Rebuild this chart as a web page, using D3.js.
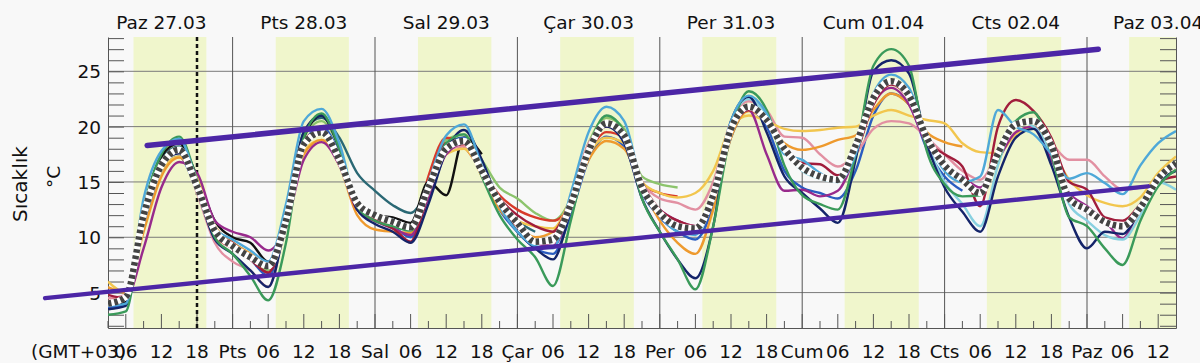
<!DOCTYPE html>
<meta charset="utf-8">
<script src="https://d3js.org/d3.v7.min.js"></script>
<style>
  body { margin: 0; background: #f8f8f8; }
  svg { font-family: "DejaVu Sans", sans-serif; }
</style>
<div id="chart"></div>
<script>
// hours after Mar 27 00:00 (GMT+03), one value every 3 hours from 03:00
var hours = d3.range(3, 184, 3);

var dayLabels = ["Paz 27.03", "Pts 28.03", "Sal 29.03", "Çar 30.03", "Per 31.03", "Cum 01.04", "Cts 02.04", "Paz 03.04"];
var dayShort = ["Paz", "Pts", "Sal", "Çar", "Per", "Cum", "Cts", "Paz"];
var sunrise = [7.30, 7.27, 7.24, 7.21, 7.18, 7.15, 7.12, 7.10];
var sunset = [19.58, 19.60, 19.61, 19.62, 19.63, 19.64, 19.65, 19.66];
var yMajor = [5, 10, 15, 20, 25];
var nowHour = 18;

function fill(start, vals) {
  var a = new Array(hours.length).fill(null);
  vals.forEach(function(v, i) { a[start + i] = v; });
  return a;
}

var mean = [4.0, 4.6, 12.0, 16.5, 17.9, 14.6, 10.6, 9.2, 8.2, 7.4,
  11.5, 18.4, 19.5, 17.0, 13.1, 12.0, 11.4, 10.9, 14.5, 18.0,
  18.7, 16.0, 13.2, 11.3, 9.6, 9.8, 13.0, 17.8, 20.3, 19.2,
  14.5, 12.2, 11.0, 10.8, 13.8, 19.8, 21.8, 20.6, 18.0, 16.3,
  15.5, 15.2, 18.3, 22.6, 24.1, 22.8, 19.0, 16.5, 15.2, 14.0,
  17.6, 20.2, 20.5, 18.3, 13.5, 12.5, 11.4, 11.0, 12.7, 15.3,
  16.7];

var sky = [3.8, 4.0, 13.5, 17.8, 18.9, 15.0, 10.8, 9.8, 8.8, 7.8,
  13.0, 20.5, 21.6, 18.5, 13.0, 12.0, 11.6, 11.0, 15.0, 19.2,
  20.2, 16.5, 12.8, 10.5, 9.2, 9.0, 14.0, 19.5, 21.8, 20.5,
  14.8, 12.0, 10.5, 10.2, 14.0, 20.5, 22.8, 21.2, 17.5, 17.0,
  15.8, 15.0, 17.5, 23.0, 24.7, 23.5, 19.0, 16.0, 15.0, 15.5,
  21.5, 20.0, 19.3, 17.5, 15.3, 15.8, 14.9, 13.9, 16.5, 18.5,
  19.6];

var green = [3.0, 3.3, 12.5, 17.5, 19.1, 15.2, 10.0, 8.5, 6.5, 4.3,
  9.5, 19.0, 21.2, 18.0, 12.8, 11.5, 11.0, 10.6, 14.0, 18.5,
  19.3, 15.5, 12.0, 9.8, 8.2, 5.6, 11.5, 18.0, 21.0, 19.5,
  13.5, 10.5, 8.0, 5.3, 11.0, 19.5, 23.2, 21.5, 16.5, 13.8,
  13.0, 12.5, 17.5, 25.5, 27.0, 25.5, 17.8, 14.8, 13.7, 13.8,
  17.0, 20.5, 21.3, 17.5, 11.8, 11.0, 9.0, 7.5, 11.5, 14.6,
  16.1];

var navy = [3.5, 3.8, 11.5, 16.5, 17.6, 14.2, 9.8, 8.5, 7.0, 5.5,
  11.5, 19.5, 21.0, 18.0, 12.5, 11.2, 10.5, 9.5, 13.0, 17.8,
  19.7, 17.0, 13.0, 10.5, 9.0, 8.0, 12.5, 18.0, 20.0, 18.5,
  13.5, 10.5, 8.0, 6.3, 11.0, 20.5, 22.7, 19.5, 15.5, 14.0,
  12.6, 11.3, 17.0, 25.0, 26.0, 24.8, 18.5, 14.5, 12.3, 10.5,
  15.5, 19.0, 19.8, 16.5, 11.8, 9.0, 10.5, 10.3, 12.5, 15.0,
  16.0];

var black = fill(0, [3.8, 4.2, 12.5, 17.3, 18.5, 15.5, 11.5, 10.0, 9.5, 7.8,
  11.0, 19.0, 21.0, 18.0, 13.0, 12.0, 11.8, 11.3, 15.0, 13.8,
  19.0, 17.5]);

var blue = fill(0, [3.6, 4.0, 11.0, 16.0, 17.3, 14.2, 10.3, 9.2, 8.0, 6.5,
  11.0, 18.5, 20.0, 17.5, 12.5, 11.5, 11.0, 10.0, 14.0, 18.0,
  19.0, 16.0, 12.5, 10.5, 9.0, 8.5, 12.0, 17.0, 19.1, 18.2,
  14.0, 11.8, 10.5, 9.8, 12.8, 19.0, 21.5, 20.0, 16.0, 14.5,
  14.0, 13.5, 16.0, 21.0, 23.0, 22.0, 18.0, 15.5, 14.2]);

var purple = [4.2, 4.4, 9.0, 14.5, 16.8, 15.8, 11.5, 10.5, 10.0, 8.8,
  11.0, 17.0, 18.6, 16.5, 12.5, 11.5, 10.8, 10.2, 13.5, 17.5,
  18.5, 16.0, 13.0, 11.0, 9.5, 9.2, 12.5, 18.0, 20.4, 19.0,
  14.5, 12.5, 11.5, 11.0, 13.5, 19.5, 21.5, 17.5, 14.2, 14.3,
  13.7, 14.2, 17.5, 22.0, 23.5, 22.0, 18.3, 16.5, 15.5, 14.5,
  17.0, 19.5, 20.0, 17.0, 14.0, 12.8, 11.5, 9.9, 12.8, 15.5,
  16.4];

var pink = fill(0, [4.5, 4.8, 12.0, 16.8, 17.8, 14.0, 9.5, 7.8, 7.0, 5.5,
  11.5, 18.5, 19.5, 16.5, 12.8, 11.8, 11.2, 10.8, 14.5, 17.8,
  18.2, 15.8, 13.0, 11.0, 9.5, 9.2, 13.5, 18.5, 20.0, 19.0,
  15.0, 13.5, 13.1, 12.5, 15.0, 20.5, 22.3, 21.5, 19.1, 19.0,
  17.5, 16.4, 17.5, 19.8, 20.5, 20.3, 19.0, 17.5, 16.0, 15.2,
  17.5, 19.5, 20.0, 18.5, 17.0, 17.0, 15.5, 14.3, 14.5]);

var orange = fill(0, [5.5, 5.0, 10.5, 15.5, 17.2, 15.0, 11.0, 9.5, 8.5, 7.5,
  11.0, 17.5, 18.8, 16.5, 12.0, 10.7, 10.5, 10.4, 14.5, 18.5,
  18.5, 15.5, 12.5, 11.0, 10.0, 10.5, 13.0, 17.0, 18.7, 18.0,
  14.5, 11.5, 9.5, 8.5, 12.5, 19.0, 21.4, 20.5, 18.5, 17.9,
  18.2, 18.8, 19.2, 21.5, 23.0, 22.0, 19.5, 18.6, 18.2]);

var yellow = [6.0, 5.0, 11.5, 16.0, 17.3, 15.5, 11.0, 9.5, 8.5, 7.5,
  11.5, 17.8, 18.8, 16.8, 12.5, 11.5, 11.0, 10.8, 14.0, 17.5,
  18.0, 15.8, 12.8, 11.5, 11.0, 10.8, 13.5, 17.5, 19.0, 18.5,
  15.0, 14.0, 13.6, 14.0, 16.0, 20.0, 21.0, 20.5, 19.8, 19.6,
  19.7, 19.9, 20.0, 21.0, 21.5, 21.0, 20.6, 20.3, 18.5, 17.7,
  17.6, 19.3, 20.0, 18.0, 15.2, 13.8, 13.1, 12.8, 13.6, 15.8,
  17.3];

var darkred = [4.8, 4.5, 11.5, 16.5, 18.0, 14.8, 10.5, 9.5, 8.0, 6.8,
  11.0, 18.8, 19.6, 17.0, 12.5, 11.5, 10.8, 9.6, 14.0, 18.5,
  18.5, 16.0, 13.5, 12.0, 11.0, 10.5, 13.5, 18.0, 20.0, 19.5,
  15.0, 12.5, 11.5, 11.0, 13.5, 19.5, 21.5, 20.5, 18.2, 16.7,
  16.6, 15.6, 17.5, 22.0, 23.8, 22.5, 18.8, 17.5, 16.4, 12.8,
  20.0, 22.4, 21.4, 19.0, 15.0, 14.3, 11.8, 11.5, 13.0, 15.0,
  15.5];

var teal = fill(0, [4.0, 4.3, 12.0, 17.0, 18.2, 15.0, 10.8, 9.5, 8.5, 7.5,
  12.0, 19.5, 20.8, 19.0, 15.8, 14.2, 12.9, 12.2, 14.5, 18.5,
  19.0, 16.5, 13.5, 11.5, 10.5]);

var lightgreen = fill(0, [3.5, 4.0, 12.5, 17.5, 18.8, 15.0, 10.5, 9.2, 8.0, 7.0,
  12.0, 19.0, 20.5, 18.0, 13.0, 12.0, 11.5, 11.0, 14.5, 18.8,
  19.3, 17.0, 14.5, 13.5, 12.2, 11.5, 13.5, 18.5, 20.8, 19.8,
  15.5, 14.8, 14.5]);

var red = fill(0, [4.5, 4.6, 12.0, 16.8, 17.9, 14.5, 10.2, 9.0, 8.0, 6.8,
  11.5, 18.5, 19.8, 17.5, 12.8, 11.7, 11.0, 9.5, 15.5, 19.0,
  18.2, 16.0, 13.8, 12.5, 11.8, 11.5, 13.0, 17.5, 19.5, 19.0,
  14.8, 14.0, 13.7]);

var paleCyan = fill(33, [10.5, 14.0, 20.5, 22.5, 21.0, 18.0, 16.0,
  15.3, 15.0, 17.5, 22.5, 24.0, 23.0, 18.5, 15.0, 13.0, 11.0,
  16.5, 20.5, 20.0, 17.5, 13.0, 11.5, 10.2, 9.8, 12.0, 15.0,
  14.3]);

// trend lines: [hour after Mar 27 00:00, value]
var trendUpper = [[9.6, 18.3], [169.9, 27.0]];
var trendLower = [[-7.6, 4.5], [178.3, 14.6]];

var series = [
  { name: "teal", color: "#2a6874", values: teal },
  { name: "lightgreen", color: "#8cc46c", values: lightgreen },
  { name: "red", color: "#d83a2a", values: red },
  { name: "black", color: "#111111", values: black },
  { name: "blue", color: "#2a5cc0", values: blue },
  { name: "pink", color: "#e290a2", values: pink },
  { name: "yellow", color: "#f2c64e", values: yellow },
  { name: "orange", color: "#ee9a2e", values: orange },
  { name: "purple", color: "#982a8c", values: purple },
  { name: "darkred", color: "#a11d3c", values: darkred },
  { name: "paleCyan", color: "#88d0e0", values: paleCyan },
  { name: "navy", color: "#14246a", values: navy },
  { name: "green", color: "#3a9a5a", values: green },
  { name: "sky", color: "#4ea8d8", values: sky }
];

var W = 1200, H = 363;
var pL = 108, pR = 1176, pT = 37, pB = 328;
var fs = 18.5;

var svg = d3.select("#chart").append("svg")
  .attr("width", W).attr("height", H)
  .style("background", "#f8f8f8");

var x = d3.scaleLinear().domain([3, 183]).range([pL, pR]);
var y = d3.scaleLinear().domain([1.8, 28.1]).range([pB, pT]);

svg.append("clipPath").attr("id", "plotclip")
  .append("rect").attr("x", pL).attr("y", pT)
  .attr("width", pR - pL).attr("height", pB - pT);

// daylight bands
svg.append("g").attr("clip-path", "url(#plotclip)")
  .selectAll("rect").data(sunrise).enter().append("rect")
  .attr("x", function(d, i) { return x(24 * i + d); })
  .attr("y", pT)
  .attr("width", function(d, i) { return x(24 * i + sunset[i]) - x(24 * i + d); })
  .attr("height", pB - pT)
  .attr("fill", "#f0f6cc");

// horizontal grid
svg.append("g").selectAll("line").data(yMajor).enter().append("line")
  .attr("x1", pL).attr("x2", pR)
  .attr("y1", function(d) { return y(d); }).attr("y2", function(d) { return y(d); })
  .attr("stroke", "#7a7a7a").attr("stroke-width", 1);

// day boundaries
var midnights = d3.range(1, 8).map(function(k) { return 24 * k; });
svg.append("g").selectAll("line").data(midnights).enter().append("line")
  .attr("x1", function(d) { return x(d); }).attr("x2", function(d) { return x(d); })
  .attr("y1", pT).attr("y2", pB)
  .attr("stroke", "#555").attr("stroke-width", 1);

// y minor ticks, left and right (inside)
var yTicks = d3.range(2, 29);
function styleAxis(g) {
  g.select(".domain").attr("stroke", "#555");
  g.selectAll(".tick line").attr("stroke", "#555");
}
svg.append("g").attr("transform", "translate(" + pL + ",0)")
  .call(d3.axisRight(y).tickValues(yTicks).tickSize(16).tickSizeOuter(0).tickFormat(""))
  .call(styleAxis);
svg.append("g").attr("transform", "translate(" + pR + ",0)")
  .call(d3.axisLeft(y).tickValues(yTicks).tickSize(16).tickSizeOuter(0).tickFormat(""))
  .call(styleAxis);

// y labels
svg.append("g").selectAll("text").data(yMajor).enter().append("text")
  .attr("x", 101).attr("y", function(d) { return y(d) + 7; })
  .attr("text-anchor", "end").attr("font-size", fs).attr("fill", "#111")
  .text(function(d) { return d; });

// x ticks pointing up
var xTicks = d3.range(3, 183, 3);
svg.append("g").attr("transform", "translate(0," + pB + ")")
  .call(d3.axisTop(x).tickValues([]).tickSizeOuter(0))
  .call(styleAxis);
svg.append("g").selectAll("line").data(xTicks).enter().append("line")
  .attr("x1", function(d) { return x(d); }).attr("x2", function(d) { return x(d); })
  .attr("y1", pB)
  .attr("y2", function(d) { return d % 6 === 0 ? pB - 14 : pB - 7; })
  .attr("stroke", "#555").attr("stroke-width", 1);

// x labels
var xLabelHours = d3.range(6, 183, 6);
svg.append("g").selectAll("text").data(xLabelHours).enter().append("text")
  .attr("x", function(d) { return x(d); }).attr("y", 358)
  .attr("text-anchor", "middle").attr("font-size", fs).attr("fill", "#111")
  .text(function(d) {
    var h = d % 24;
    return h === 0 ? dayShort[d / 24] : d3.format("02d")(h);
  });
svg.append("text").attr("x", 31).attr("y", 358)
  .attr("font-size", fs).attr("fill", "#111").text("(GMT+03)");

// day titles
svg.append("g").selectAll("text").data(dayLabels).enter().append("text")
  .attr("x", function(d, i) { return x(24 * i + 12); }).attr("y", 29)
  .attr("text-anchor", "middle").attr("font-size", fs).attr("fill", "#111")
  .text(function(d) { return d; });

// axis titles
svg.append("text").attr("transform", "translate(27,184) rotate(-90)")
  .attr("text-anchor", "middle").attr("font-size", 20).attr("fill", "#111").text("Sıcaklık");
svg.append("text").attr("transform", "translate(60,177) rotate(-90)")
  .attr("text-anchor", "middle").attr("font-size", fs).attr("fill", "#111").text("°C");

// now line
svg.append("line")
  .attr("x1", x(nowHour)).attr("x2", x(nowHour))
  .attr("y1", pT).attr("y2", pB)
  .attr("stroke", "#111").attr("stroke-width", 2.5).attr("stroke-dasharray", "4 3");

var line = d3.line()
  .defined(function(d) { return d[1] !== null; })
  .x(function(d) { return x(d[0]); })
  .y(function(d) { return y(d[1]); })
  .curve(d3.curveMonotoneX);

function pts(vals) { return vals.map(function(v, i) { return [hours[i], v]; }); }

var plot = svg.append("g").attr("clip-path", "url(#plotclip)");
plot.selectAll(".series").data(series).enter().append("path")
  .attr("class", "series")
  .attr("d", function(d) { return line(pts(d.values)); })
  .attr("fill", "none")
  .attr("stroke", function(d) { return d.color; })
  .attr("stroke-width", 2.4)
  .attr("stroke-linejoin", "round");

// ensemble mean, dotted
plot.append("path").attr("d", line(pts(mean)))
  .attr("fill", "none").attr("stroke", "#ffffff").attr("stroke-width", 6.5);
plot.append("path").attr("d", line(pts(mean)))
  .attr("fill", "none").attr("stroke", "#444").attr("stroke-width", 6.5)
  .attr("stroke-dasharray", "3.5 3");

// trend lines
var tline = d3.line().x(function(d) { return x(d[0]); }).y(function(d) { return y(d[1]); });
[trendUpper, trendLower].forEach(function(t, i) {
  svg.append("path").attr("d", tline(t))
    .attr("fill", "none").attr("stroke", "#4c26a6")
    .attr("stroke-width", i === 0 ? 5.5 : 4.5).attr("stroke-linecap", "round");
});
</script>
